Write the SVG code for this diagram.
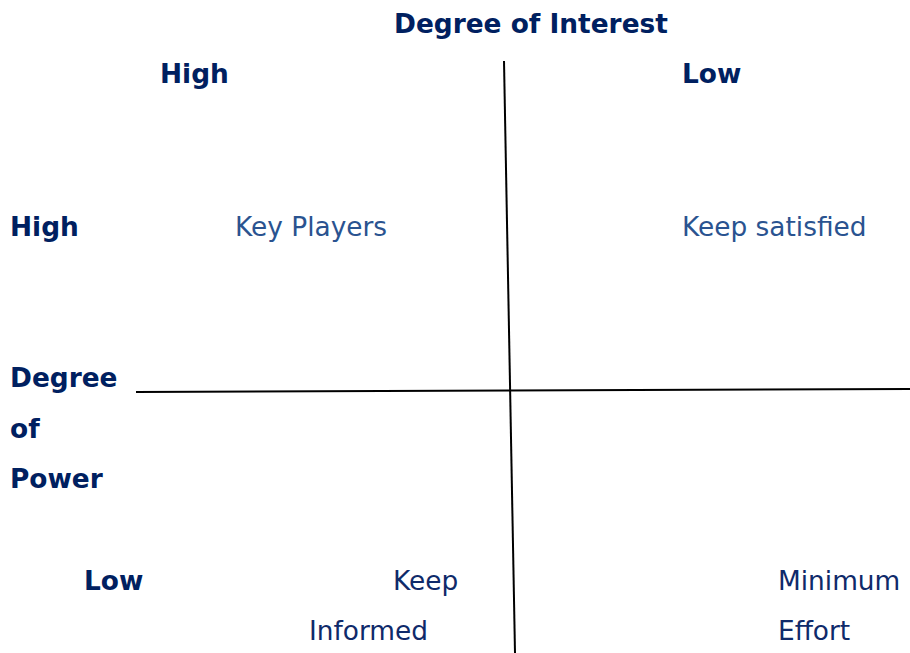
<svg xmlns="http://www.w3.org/2000/svg" width="910" height="653" viewBox="0 0 910 653">
  <style>
    text { font-family: "DejaVu Sans", Verdana, sans-serif; font-size: 26.4px; }
    .axis { font-weight: bold; fill: #002060; }
    .quad { fill: #2A5390; }
    .quad2 { fill: #0F2A6A; }
    .line { stroke: #000; stroke-width: 2; fill: none; }
  </style>
  <rect width="910" height="653" fill="#fff"/>

  <g id="connectors">
    <line class="line" x1="504" y1="61" x2="515" y2="653"/>
    <line class="line" x1="136" y1="392" x2="910" y2="389"/>
  </g>

  <g id="interest-axis">
    <text class="axis" x="394" y="33">Degree of Interest</text>
    <text class="axis" x="160" y="83">High</text>
    <text class="axis" x="682" y="83">Low</text>
  </g>

  <g id="power-axis">
    <text class="axis" x="10" y="236">High</text>
    <text class="axis" x="10" y="387">Degree</text>
    <text class="axis" x="10" y="438">of</text>
    <text class="axis" x="10" y="488">Power</text>
    <text class="axis" x="84" y="590">Low</text>
  </g>

  <g id="key-players">
    <text class="quad" x="235" y="236">Key Players</text>
  </g>
  <g id="keep-satisfied">
    <text class="quad" x="682" y="236">Keep satisfied</text>
  </g>
  <g id="keep-informed">
    <text class="quad2" x="393" y="590">Keep</text>
    <text class="quad2" x="309" y="640">Informed</text>
  </g>
  <g id="minimum-effort">
    <text class="quad2" x="778" y="590">Minimum</text>
    <text class="quad2" x="778" y="640">Effort</text>
  </g>
</svg>
